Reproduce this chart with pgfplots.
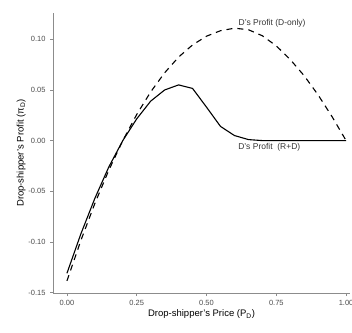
\documentclass[border=0pt]{standalone}
\usepackage{pgfplots}
\pgfplotsset{compat=1.18}
\usepackage{fontspec}
\setmainfont{Liberation Sans}
\definecolor{tickgray}{HTML}{4D4D4D}
\definecolor{axgray}{HTML}{8C8C8C}
\begin{document}
\begin{tikzpicture}
\begin{axis}[
  scale only axis, width=297pt, height=280pt,
  xmin=-0.05, xmax=1.014, ymin=-0.1505, ymax=0.126,
  axis lines=left, axis line style={axgray, line width=0.8pt, -},
  xtick={0,0.25,0.5,0.75,1}, ytick={-0.15,-0.1,-0.05,0,0.05,0.1},
  tick style={axgray, line width=0.6pt}, tick align=outside, major tick length=3pt,
  xticklabel style={font=\fontsize{7.5}{9}\selectfont, text=tickgray, yshift=-1pt},
  yticklabel style={font=\fontsize{7.5}{9}\selectfont, text=tickgray, xshift=-1pt},
  /pgf/number format/assume math mode=true,
  /pgf/number format/.cd, fixed, fixed zerofill, precision=2, /pgfplots/.cd,
  scaled y ticks=false, scaled x ticks=false,
  xlabel={Drop-shipper's Price (P\textsubscript{D})},
  ylabel={Drop-shipper's Profit (π\textsubscript{D})},
  label style={font=\fontsize{9.5}{11}\selectfont},
  xlabel style={yshift=3pt},
  ylabel style={yshift=-4pt},
  clip=false,
]
\addplot[black, line width=1.1pt, dash pattern=on 6pt off 5pt] coordinates {
(0.00,-0.1385) (0.05,-0.0985) (0.10,-0.0620) (0.15,-0.0292) (0.20,0.0000)
(0.25,0.0258) (0.30,0.0481) (0.35,0.0670) (0.40,0.0825) (0.45,0.0945)
(0.50,0.1031) (0.55,0.1085) (0.60,0.1110) (0.65,0.1095) (0.70,0.1035)
(0.75,0.0935) (0.80,0.0800) (0.85,0.0640) (0.90,0.0450) (0.95,0.0235) (1.00,0.0000)
};
\addplot[black, line width=1.1pt] coordinates {
(0.00,-0.1310) (0.05,-0.0920) (0.10,-0.0570) (0.15,-0.0260) (0.20,0.0000)
(0.25,0.0215) (0.30,0.0390) (0.35,0.0500) (0.40,0.0550) (0.45,0.0515)
(0.50,0.0330) (0.55,0.0140) (0.60,0.0050) (0.65,0.0010) (0.70,0.0000)
(0.75,0.0000) (0.80,0.0000) (0.85,0.0000) (0.90,0.0000) (0.95,0.0000) (1.00,0.0000)
};
\node[font=\fontsize{8.5}{10}\selectfont, text=tickgray!70!black] at (axis cs:0.735,0.1155) {D's Profit (D-only)};
\node[font=\fontsize{8.5}{10}\selectfont, text=tickgray!70!black] at (axis cs:0.725,-0.0065) {D's Profit\ \ (R+D)};
\end{axis}
\pgfresetboundingbox
\path[use as bounding box] (-53pt,-39pt) rectangle (299pt,293pt);
\end{tikzpicture}
\end{document}
